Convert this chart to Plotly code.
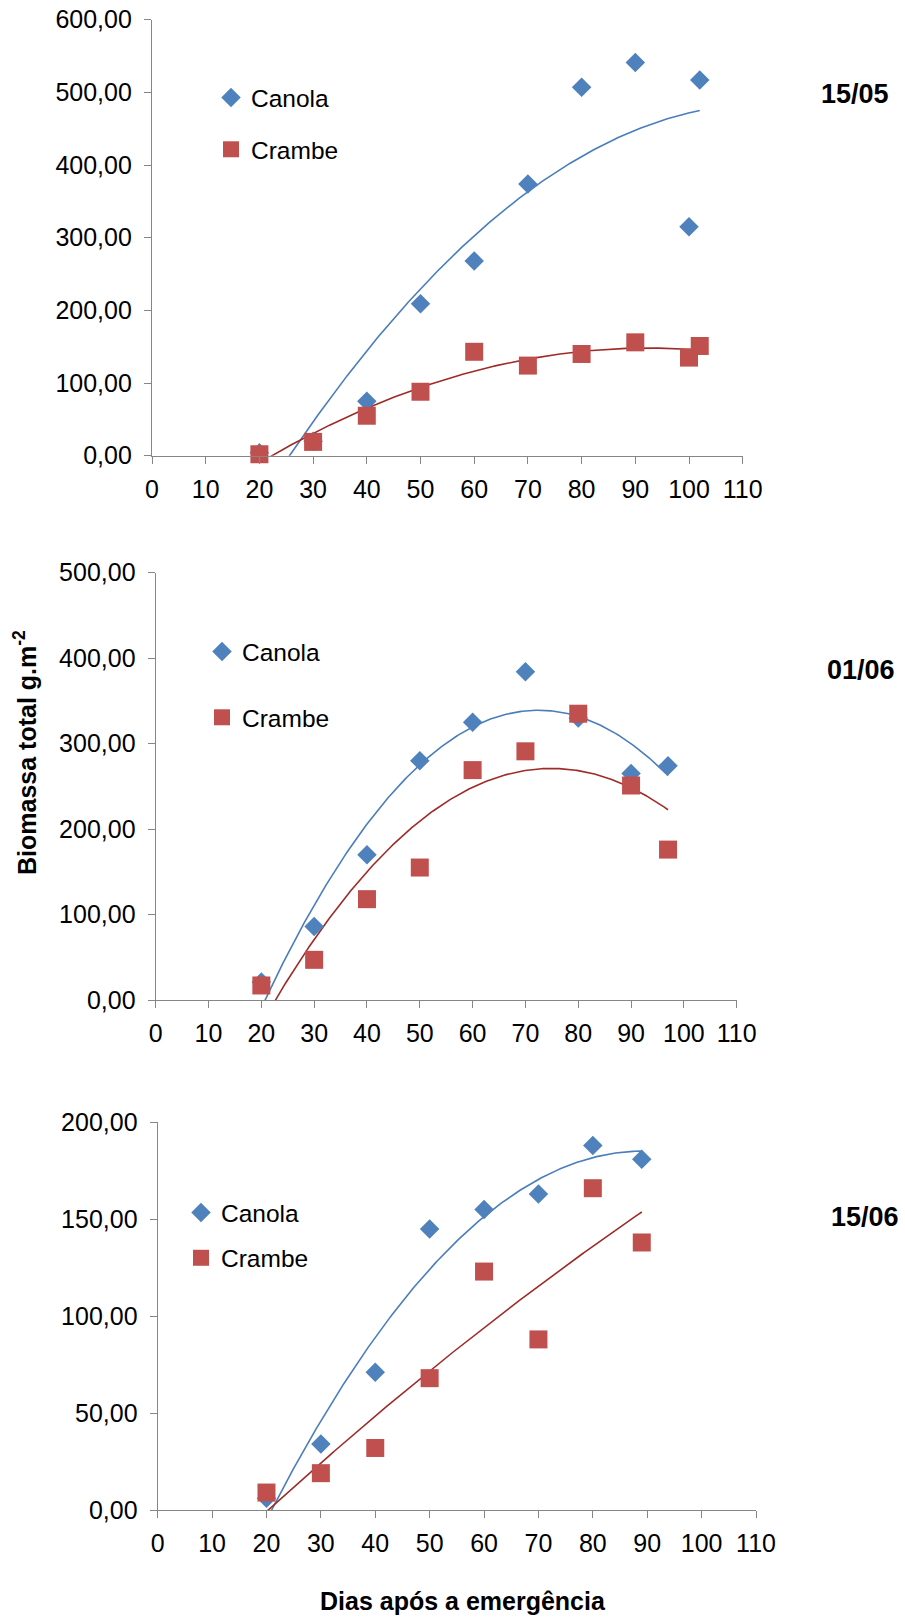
import numpy as np
import plotly.graph_objects as go

# ---------------- data ----------------
x_canola_1505 = [20, 30, 40, 50, 60, 70, 80, 90, 100, 102]
y_canola_1505 = [4, 20, 75, 209, 268, 374, 507, 541, 315, 517]
x_crambe_1505 = [20, 30, 40, 50, 60, 70, 80, 90, 100, 102]
y_crambe_1505 = [2, 19, 55, 88, 143, 124, 140, 156, 135, 151]

x_canola_0106 = [20, 30, 40, 50, 60, 70, 80, 90, 97]
y_canola_0106 = [21, 86, 170, 280, 325, 384, 330, 265, 274]
x_crambe_0106 = [20, 30, 40, 50, 60, 70, 80, 90, 97]
y_crambe_0106 = [17, 47, 118, 155, 269, 291, 335, 251, 176]

x_canola_1506 = [20, 30, 40, 50, 60, 70, 80, 89]
y_canola_1506 = [6, 34, 71, 145, 155, 163, 188, 181]
x_crambe_1506 = [20, 30, 40, 50, 60, 70, 80, 89]
y_crambe_1506 = [9, 19, 32, 68, 123, 88, 166, 138]

panel_labels = ["15/05", "01/06", "15/06"]
series_names = ["Canola", "Crambe"]
y_max = [600, 500, 200]
y_step = [100, 100, 50]
x_ticks = [0, 10, 20, 30, 40, 50, 60, 70, 80, 90, 100, 110]

# ---------------- style ----------------
OFF = 0                      # page body margin removed via post_script
W, H = 905 - OFF, 1619 - OFF
FONT = "Liberation Sans"
BLUE = "#4F81BD"
RED = "#C0504D"
BLUE_LINE = "#4A7EBB"
RED_LINE = "#9E2B28"
AXIS = "#868686"


def fx(px):
    return (px - OFF) / W


def fy(py):
    return 1 - (py - OFF) / H


# pixel boxes (window px): (x0, x1, ytop, ybottom)
boxes = [(152, 742.7, 19.7, 455.7),
         (155.7, 736.7, 572.7, 1000),
         (157.7, 756, 1122.3, 1510)]

data = [
    (x_canola_1505, y_canola_1505, x_crambe_1505, y_crambe_1505),
    (x_canola_0106, y_canola_0106, x_crambe_0106, y_crambe_0106),
    (x_canola_1506, y_canola_1506, x_crambe_1506, y_crambe_1506),
]

# legend placement (window px): top-left of legend box, group gap
legend_pos = [(211, 75, 17), (202, 629, 31), (181, 1190, 10.5)]
label_pos = [(855, 94), (861, 670), (865, 1217)]

fig = go.Figure()
layout = dict(
    width=W, height=H, margin=dict(l=0, r=0, t=0, b=0, autoexpand=False),
    paper_bgcolor="white", plot_bgcolor="white",
    separators=",.",
    font=dict(family=FONT, size=24, color="black"),
    showlegend=True,
)

annotations = []
for i, (xc, yc, xr, yr) in enumerate(data):
    n = "" if i == 0 else str(i + 1)
    xa, ya = "x" + n, "y" + n
    lg = "legend" + n
    x0, x1, yt, yb = boxes[i]
    layout["xaxis" + n] = dict(
        domain=[fx(x0), fx(x1)], range=[0, 110], anchor=ya, automargin=False,
        tickmode="array", tickvals=x_ticks,
        ticks="outside", ticklen=7, tickwidth=1.3, tickcolor=AXIS,
        showline=True, linecolor=AXIS, linewidth=1.3,
        showgrid=False, zeroline=False,
        tickfont=dict(family=FONT, size=25, color="black"),
        ticklabelstandoff=4, ticklabeloverflow="allow",
    )
    layout["yaxis" + n] = dict(
        domain=[fy(yb), fy(yt)], range=[0, y_max[i]], anchor=xa,
        automargin=False,
        dtick=y_step[i], tick0=0, tickformat=".2f",
        ticks="outside", ticklen=7, tickwidth=1.3, tickcolor=AXIS,
        showline=True, linecolor=AXIS, linewidth=1.3,
        showgrid=False, zeroline=False,
        tickfont=dict(family=FONT, size=25, color="black"),
        ticklabelstandoff=7, ticklabeloverflow="allow",
    )
    lx, ly, gap = legend_pos[i]
    layout[lg] = dict(
        x=fx(lx), y=fy(ly), xanchor="left", yanchor="top",
        bgcolor="rgba(0,0,0,0)", borderwidth=0,
        font=dict(family=FONT, size=24.5, color="black"),
        tracegroupgap=gap, itemwidth=30,
    )

    # trendlines (2nd-order polynomial fit, like the spreadsheet trendline)
    for xs, ys, col in ((xc, yc, BLUE_LINE), (xr, yr, RED_LINE)):
        coef = np.polyfit(xs, ys, 2)
        xx = np.linspace(min(xs), max(xs), 300)
        fig.add_trace(go.Scatter(
            x=xx, y=np.polyval(coef, xx), mode="lines",
            line=dict(color=col, width=1.6), showlegend=False,
            hoverinfo="skip", xaxis=xa, yaxis=ya))

    fig.add_trace(go.Scatter(
        x=xc, y=yc, mode="markers", name=series_names[0],
        marker=dict(symbol="diamond", size=15, color=BLUE),
        legendgroup="c" + n, legend=lg, xaxis=xa, yaxis=ya, cliponaxis=False))
    fig.add_trace(go.Scatter(
        x=xr, y=yr, mode="markers", name=series_names[1],
        marker=dict(symbol="square", size=18, color=RED),
        legendgroup="r" + n, legend=lg, xaxis=xa, yaxis=ya, cliponaxis=False))

    px, py = label_pos[i]
    annotations.append(dict(
        x=fx(px), y=fy(py), xref="paper", yref="paper",
        text="<b>" + panel_labels[i] + "</b>", showarrow=False,
        font=dict(family=FONT, size=27, color="black"),
        xanchor="center", yanchor="middle"))

annotations.append(dict(
    x=fx(25), y=fy(753), xref="paper", yref="paper",
    text="<b>Biomassa total g.m<sup>-2</sup></b>", showarrow=False, textangle=-90,
    font=dict(family=FONT, size=25, color="black"),
    xanchor="center", yanchor="middle"))
annotations.append(dict(
    x=fx(463), y=fy(1601), xref="paper", yref="paper",
    text="<b>Dias após a emergência</b>", showarrow=False,
    font=dict(family=FONT, size=25, color="black"),
    xanchor="center", yanchor="middle"))

layout["annotations"] = annotations
fig.update_layout(**layout)
fig.write_html("out.html",
               config={"displayModeBar": False},
               post_script="document.body.style.margin='0px';"
                           "document.body.style.overflow='hidden';")
